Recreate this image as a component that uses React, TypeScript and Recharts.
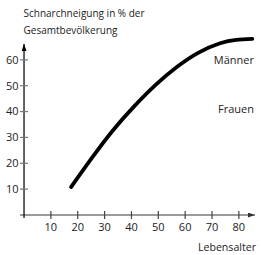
import React from "react";
import { LineChart, Line, XAxis, YAxis, ReferenceLine } from "recharts";

const AGES = [17.5, 25, 33, 41, 49, 57, 65, 73, 79, 85];
const SNORING = [10.8, 21.7, 32.6, 42.0, 50.3, 57.3, 62.8, 66.4, 67.7, 68.1];
const X_TICKS = [10, 20, 30, 40, 50, 60, 70, 80];
const Y_TICKS = [10, 20, 30, 40, 50, 60];

const data = AGES.map((age, i) => ({ age, value: SNORING[i] }));

const FONT = "'Open Sans', 'DejaVu Sans', sans-serif";
const TEXT = "#222";

function axisShape(color: string, marker: string) {
  return (p: any) => (
    <line
      x1={p.x1}
      y1={p.y1}
      x2={p.x2}
      y2={p.y2}
      stroke={color}
      strokeWidth={1.3}
      markerEnd={`url(#${marker})`}
    />
  );
}

export default function App() {
  return (
    <div style={{ position: "absolute", left: 0, top: 0, width: 263, height: 255, background: "#fff" }}>
      <LineChart
        width={263}
        height={255}
        data={data}
        margin={{ top: 34, right: 8, bottom: 0, left: 0 }}
      >
        <XAxis
          type="number"
          dataKey="age"
          domain={[-1.5, 86]}
          ticks={X_TICKS}
          height={40}
          axisLine={false}
          tickLine={false}
          tickSize={0}
          tickMargin={7.7}
          tick={{ fill: TEXT, fontSize: 11, fontFamily: FONT }}
        />
        <YAxis
          type="number"
          domain={[0, 70]}
          ticks={Y_TICKS}
          width={20}
          axisLine={false}
          tickLine={false}
          tickSize={0}
          tickMargin={1.5}
          tick={{ fill: TEXT, fontSize: 11, fontFamily: FONT }}
        />
        <ReferenceLine
          segment={[{ x: -1.5, y: 0 }, { x: 86, y: 0 }]}
          ifOverflow="visible"
          shape={axisShape("#7a7a7a", "arrowX")}
        />
        <ReferenceLine
          segment={[{ x: 0, y: -1.2 }, { x: 0, y: 66.1 }]}
          ifOverflow="visible"
          shape={axisShape("#111", "arrowY")}
        />
        {Y_TICKS.map((t) => (
          <ReferenceLine
            key={`y${t}`}
            segment={[{ x: -1.5, y: t }, { x: 1.5, y: t }]}
            ifOverflow="visible"
            stroke="#777"
            strokeWidth={1.2}
          />
        ))}
        {X_TICKS.map((t) => (
          <ReferenceLine
            key={`x${t}`}
            segment={[{ x: t, y: -1.5 }, { x: t, y: 1.5 }]}
            ifOverflow="visible"
            stroke="#444"
            strokeWidth={1.2}
          />
        ))}
        <Line
          type="natural"
          dataKey="value"
          stroke="#000"
          strokeWidth={3.8}
          strokeLinecap="round"
          dot={false}
          activeDot={false}
          isAnimationActive={false}
        />
      </LineChart>
      <svg
        width={263}
        height={255}
        style={{ position: "absolute", left: 0, top: 0, pointerEvents: "none" }}
        fontFamily={FONT}
        fontSize={11}
        fill={TEXT}
      >
        <defs>
          <marker id="arrowX" viewBox="0 0 7 5" refX={7} refY={2.5} markerWidth={7} markerHeight={5} markerUnits="userSpaceOnUse" orient="auto">
            <path d="M0,0 L7,2.5 L0,5 z" fill="#333" />
          </marker>
          <marker id="arrowY" viewBox="0 0 7 5" refX={7} refY={2.5} markerWidth={7} markerHeight={5} markerUnits="userSpaceOnUse" orient="auto">
            <path d="M0,0 L7,2.5 L0,5 z" fill="#000" />
          </marker>
        </defs>
        <text x={23.5} y={17.3} fontSize={10}>Schnarchneigung in % der</text>
        <text x={23.5} y={34.3} fontSize={10}>Gesamtbevölkerung</text>
        <text x={254} y={63.5} textAnchor="end">Männer</text>
        <text x={254} y={112.5} textAnchor="end">Frauen</text>
        <text x={256} y={250.5} textAnchor="end" fontSize={10.6}>Lebensalter</text>
      </svg>
    </div>
  );
}
